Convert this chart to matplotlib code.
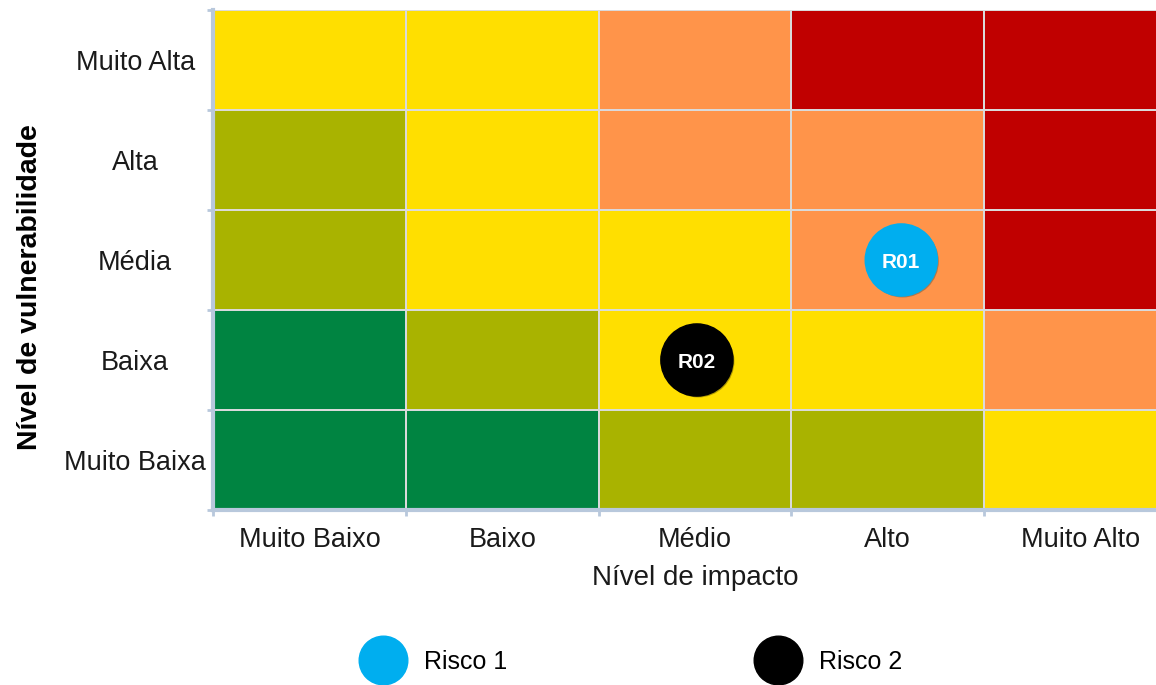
import matplotlib.pyplot as plt
import matplotlib.patheffects as pe
from matplotlib.colors import ListedColormap
from matplotlib.lines import Line2D
import numpy as np

plt.rcParams['font.family'] = ['Liberation Sans', 'DejaVu Sans']

# risk matrix: rows from "Muito Baixa" (bottom) up to "Muito Alta" (top)
impact_labels = ['Muito Baixo', 'Baixo', 'Médio', 'Alto', 'Muito Alto']
vuln_labels = ['Muito Baixa', 'Baixa', 'Média', 'Alta', 'Muito Alta']

# 0 = verde, 1 = oliva, 2 = amarelo, 3 = laranja, 4 = vermelho
levels = [
    [0, 0, 1, 1, 2],  # Muito Baixa
    [0, 1, 2, 2, 3],  # Baixa
    [1, 2, 2, 3, 4],  # Média
    [1, 2, 3, 3, 4],  # Alta
    [2, 2, 3, 4, 4],  # Muito Alta
]
level_colors = ['#008441', '#A9B300', '#FFDF00', '#FF944A', '#C00000']

# risks: position inside the matrix (impact, vulnerability)
risk_names = ['R01', 'R02']
risk_legend = ['Risco 1', 'Risco 2']
risk_x = [3.57, 2.51]
risk_y = [2.5, 1.5]
risk_colors = ['#00AEEF', '#000000']

fig = plt.figure(figsize=(11.56, 6.85), dpi=100)
W, H = 1156, 685
# axes runs a little past the right border of the figure
ax = fig.add_axes([213 / W, 1 - 510 / H, (1177 - 213) / W, 500 / H])

ax.pcolormesh(np.array(levels), cmap=ListedColormap(level_colors), vmin=-0.5, vmax=4.5,
              edgecolors='#dadada', linewidth=1.3)
ax.set_xlim(0, 5)
ax.set_ylim(0, 5)

for name, x, y, c in zip(risk_names, risk_x, risk_y, risk_colors):
    ax.scatter([x], [y], s=2700, color=c, zorder=3,
               path_effects=[pe.SimplePatchShadow(offset=(1, -1), alpha=0.3), pe.Normal()])
    ax.text(x, y, name, ha='center', va='center_baseline', color='white',
            fontsize=15, fontweight='bold', zorder=4)

# boundaries get small ticks, centres carry the labels
ax.set_xticks(np.arange(6))
ax.set_yticks(np.arange(6))
ax.set_xticklabels([])
ax.set_yticklabels([])
ax.set_xticks(np.arange(5) + 0.5, minor=True)
ax.set_yticks(np.arange(5) + 0.5, minor=True)
ax.set_xticklabels(impact_labels, minor=True, fontsize=19.5, color='#1a1a1a')
ax.set_yticklabels(vuln_labels, minor=True, fontsize=19.5, color='#1a1a1a')
for lbl in ax.get_yticklabels(minor=True):
    lbl.set_ha('center')
ax.tick_params(which='major', length=4, width=2, color='#b8c8dc')
ax.tick_params(axis='x', which='minor', length=0, pad=12)
ax.tick_params(axis='y', which='minor', length=0, pad=56)

for side in ['top', 'right']:
    ax.spines[side].set_visible(False)
for side in ['left', 'bottom']:
    ax.spines[side].set_color('#b8c8dc')
    ax.spines[side].set_linewidth(3)

fig.text(695 / W, 1 - 578 / H, 'Nível de impacto', ha='center', va='center',
         fontsize=20, color='#1a1a1a')
fig.text(30 / W, 1 - 287 / H, 'Nível de vulnerabilidade', ha='center', va='center',
         rotation=90, fontsize=20.5, fontweight='bold', color='#000000')

handles = [Line2D([], [], marker='o', linestyle='none', markersize=35,
                  markerfacecolor=c, markeredgecolor=c) for c in risk_colors]
fig.legend(handles, risk_legend, ncol=2, frameon=False, fontsize=18,
           loc='center left', bbox_to_anchor=(368 / W, 1 - 662 / H),
           borderpad=0, borderaxespad=0, handlelength=1.2, handletextpad=1.05,
           columnspacing=10.2)

fig.savefig('out.png', dpi=100)
